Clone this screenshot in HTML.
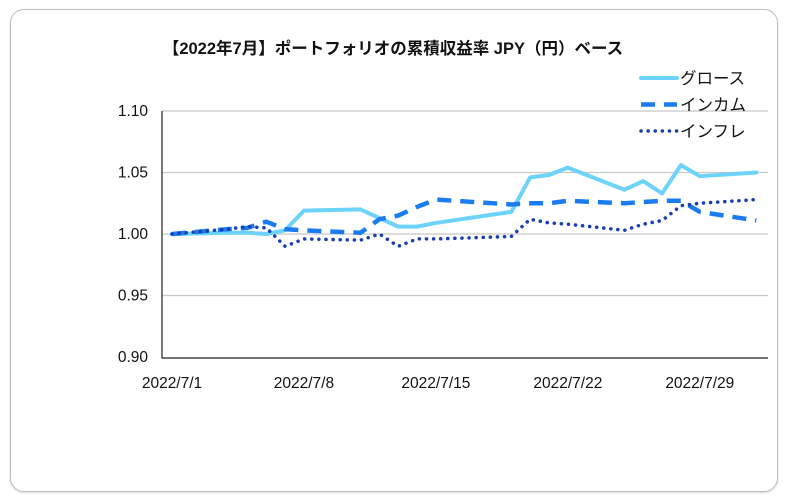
<!DOCTYPE html>
<html><head><meta charset="utf-8"><style>
html,body{margin:0;padding:0;background:#fff;width:800px;height:499px;overflow:hidden}
#card{position:absolute;left:10px;top:9px;width:766px;height:481px;border:1px solid #bdbdbd;border-radius:14px;box-shadow:0 1px 2px rgba(0,0,0,.15)}
svg{position:absolute;left:0;top:0}
text{font-family:"Liberation Sans","Noto Sans CJK JP",sans-serif}
</style></head><body>
<div id="card"></div>
<svg id="chart" width="800" height="499">
<text x="393" y="54" text-anchor="middle" font-size="16.5" font-weight="bold" fill="#111">【2022年7月】ポートフォリオの累積収益率 JPY（円）ベース</text>
<g id="grid"></g><g id="axes"></g><g id="series"></g><g id="legend"></g>
</svg>
<script>
const dayOffsets=[0,3,4,5,6,7,10,11,12,13,14,18,19,20,21,24,25,26,27,28,31];
const growth=[1.000,1.001,1.001,1.000,1.003,1.019,1.020,1.013,1.006,1.006,1.009,1.018,1.046,1.048,1.054,1.036,1.043,1.033,1.056,1.047,1.050];
const income=[1.000,1.004,1.005,1.010,1.004,1.003,1.001,1.012,1.015,1.022,1.028,1.024,1.025,1.025,1.027,1.025,1.026,1.027,1.027,1.018,1.011];
const inflation=[1.000,1.004,1.006,1.005,0.990,0.996,0.995,1.000,0.990,0.996,0.996,0.998,1.012,1.009,1.008,1.003,1.008,1.011,1.023,1.025,1.028];
const yTicks=[0.90,0.95,1.00,1.05,1.10];
const xTickDays=[0,7,14,21,28];
const xTickLabels=["2022/7/1","2022/7/8","2022/7/15","2022/7/22","2022/7/29"];
const seriesNames=["グロース","インカム","インフレ"];

const NS="http://www.w3.org/2000/svg";
const x=d=>172+d*18.85;
const y=v=>357-(v-0.90)/0.20*246;
function mk(tag,attrs,parent){const e=document.createElementNS(NS,tag);for(const k in attrs)e.setAttribute(k,attrs[k]);parent.appendChild(e);return e;}
const grid=document.getElementById('grid'),axes=document.getElementById('axes'),ser=document.getElementById('series'),leg=document.getElementById('legend');
yTicks.forEach(v=>{
  if(v>0.9){const l=mk('line',{x1:162,x2:768,y1:y(v),y2:y(v),stroke:'#c8c8c8','stroke-width':1.3},grid);
  
  }
  const t=mk('text',{x:148,y:y(v)+5,'text-anchor':'end','font-size':15.5,fill:'#111'},axes);
  t.textContent=v.toFixed(2);
  
  
});
const ax=mk('polyline',{points:'162,111 162,358 768,358',fill:'none',stroke:'#222','stroke-width':1.2},axes);


xTickDays.forEach((d,i)=>{
  const t=mk('text',{x:x(d),y:388,'text-anchor':'middle','font-size':15.5,fill:'#111'},axes);
  t.textContent=xTickLabels[i];
  
  
});
const styles=[
  {stroke:'#6dd3fb',w:4,dash:'',cap:'round'},
  {stroke:'#1a7cf0',w:4.5,dash:'14 9',cap:'butt'},
  {stroke:'#173fae',w:3.5,dash:'0.1 7',cap:'round'}];
[growth,income,inflation].forEach((arr,si)=>{
  const s=styles[si];
  const pts=arr.map((v,i)=>x(dayOffsets[i])+','+y(v)).join(' ');
  const p=mk('polyline',{points:pts,fill:'none',stroke:s.stroke,'stroke-width':s.w,'stroke-dasharray':s.dash,'stroke-linecap':s.cap,'stroke-linejoin':'round'},ser);
  
  
  const ly=78+si*26.5;
  const ll=mk('line',{x1:641,x2:677,y1:ly,y2:ly,stroke:s.stroke,'stroke-width':s.w,'stroke-dasharray':s.dash,'stroke-linecap':s.cap},leg);
  
  
  const lt=mk('text',{x:680,y:ly+6,'font-size':16.5,fill:'#111'},leg);
  lt.textContent=seriesNames[si];
  
  
});
</script>
</body></html>
